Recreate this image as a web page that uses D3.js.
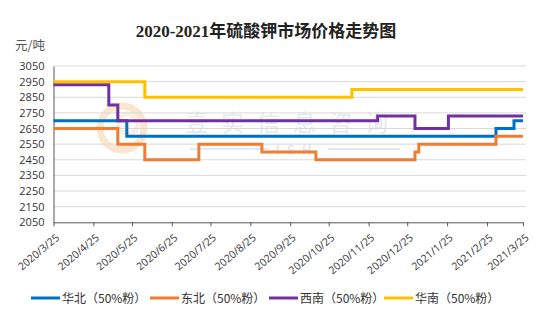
<!DOCTYPE html>
<html><head><meta charset="utf-8">
<script src="https://cdn.jsdelivr.net/npm/d3@7/dist/d3.min.js"></script>
<style>body{margin:0;background:#fff}svg{display:block}</style>
</head><body>
<svg id="c" width="545" height="323"></svg>
<script>
const title = "2020-2021年硫酸钾市场价格走势图";
const unitLabel = "元/吨";
const tickDates = ["2020-03-25","2020-04-25","2020-05-25","2020-06-25","2020-07-25","2020-08-25","2020-09-25","2020-10-25","2020-11-25","2020-12-25","2021-01-25","2021-02-25","2021-03-25"];
const yTicks = [2050,2150,2250,2350,2450,2550,2650,2750,2850,2950,3050];
const seriesNames = ["华北（50%粉）","东北（50%粉）","西南（50%粉）","华南（50%粉）"];
const seriesColors = ["#0070C0","#ED7D31","#7030A0","#FFC000"];
// change points (step-after) for each series
const huabeiDates = ["2020-03-25","2020-05-21","2021-03-04","2021-03-18","2021-03-25"];
const huabeiValues = [2700,2600,2650,2700,2700];
const dongbeiDates = ["2020-03-25","2020-05-14","2020-06-04","2020-07-16","2020-09-03","2020-10-15","2020-12-31","2021-01-03","2021-03-04","2021-03-25"];
const dongbeiValues = [2650,2550,2450,2550,2500,2450,2500,2550,2600,2600];
const xinanDates = ["2020-03-25","2020-05-07","2020-05-14","2020-12-02","2020-12-31","2021-01-26","2021-03-25"];
const xinanValues = [2930,2800,2700,2730,2650,2730,2730];
const huananDates = ["2020-03-25","2020-06-04","2020-11-12","2021-03-25"];
const huananValues = [2950,2850,2900,2900];

const parse = d3.timeParse("%Y-%m-%d");
const fmt = d => `${d.getFullYear()}/${d.getMonth()+1}/${d.getDate()}`;
const svg = d3.select("#c");
const L = 53.5, R = 523, T = 66, B = 222.3;
const x = d3.scaleTime().domain([parse(tickDates[0]), parse(tickDates[tickDates.length-1])]).range([L, R]);
const y = d3.scaleLinear().domain([2050,3050]).range([B, T]);
const sans = "'Noto Sans CJK SC','Open Sans',sans-serif";

// watermark
const wm = svg.append("g").attr("opacity",0.55);
wm.append("circle").attr("cx",122).attr("cy",128).attr("r",22).attr("fill","none").attr("stroke","#f6d3a8").attr("stroke-width",7);
wm.append("circle").attr("cx",128).attr("cy",124).attr("r",10).attr("fill","none").attr("stroke","#f9e2c4").attr("stroke-width",5);
wm.append("text").attr("x",293).attr("y",131).attr("text-anchor","middle").attr("font-family",sans).attr("font-size",23).attr("letter-spacing",13).attr("fill","#cfd8e2").text("壹实信息咨询");
wm.append("text").attr("x",297).attr("y",155).attr("text-anchor","middle").attr("font-family",sans).attr("font-size",13).attr("font-weight","bold").attr("letter-spacing",7).attr("fill","#cfd8e2").text("ISH");
wm.append("line").attr("x1",190).attr("x2",268).attr("y1",149).attr("y2",149).attr("stroke","#cfd8e2").attr("stroke-width",2);
wm.append("line").attr("x1",328).attr("x2",400).attr("y1",149).attr("y2",149).attr("stroke","#cfd8e2").attr("stroke-width",2);

// title
svg.append("text").attr("x",266).attr("y",37).attr("text-anchor","middle")
  .attr("font-family","'Liberation Serif','Noto Sans CJK SC',serif").attr("font-weight","bold").attr("font-size",17).attr("fill","#222").text(title);
svg.append("text").attr("x",15).attr("y",50).attr("font-family",sans).attr("font-size",12.5).attr("fill","#555").text(unitLabel);

// grid
svg.append("g").selectAll("line").data(yTicks.slice(1)).join("line")
  .attr("x1",L).attr("x2",R+3).attr("y1",d=>y(d)).attr("y2",d=>y(d)).attr("stroke","#d9d9d9").attr("stroke-width",1);

// y axis
const ya = svg.append("g").attr("transform",`translate(${L},0)`).call(d3.axisLeft(y).tickValues(yTicks).tickFormat(d3.format("d")).tickSize(0).tickPadding(9));
ya.select(".domain").attr("stroke","#595959");
ya.selectAll("text").attr("font-family","'Open Sans',sans-serif").attr("font-size",11).attr("fill","#333");

// x axis
const xa = svg.append("g").attr("transform",`translate(0,${B})`).call(d3.axisBottom(x).tickValues(tickDates.map(parse)).tickFormat(fmt).tickSize(4).tickSizeOuter(0));
xa.select(".domain").attr("stroke","#595959");
xa.selectAll(".tick line").attr("stroke","#595959");
xa.selectAll("text").attr("font-family","'Open Sans',sans-serif").attr("font-size",10.5).attr("fill","#333")
  .attr("text-anchor","end").attr("dy",0).attr("x",0).attr("y",0).attr("transform","translate(6,16.5) rotate(-40)");

// lines
const seriesData = [[huabeiDates,huabeiValues],[dongbeiDates,dongbeiValues],[xinanDates,xinanValues],[huananDates,huananValues]];
const line = d3.line().x(d=>x(d[0])).y(d=>y(d[1])).curve(d3.curveStepAfter);
seriesData.forEach(([ds,vs],i)=>{
  const pts = ds.map((d,k)=>[parse(d),vs[k]]);
  svg.append("path").datum(pts).attr("d",line).attr("fill","none").attr("stroke",seriesColors[i]).attr("stroke-width",3);
});

// legend
const legX = [31,150,269,384];
const lg = svg.append("g");
seriesNames.forEach((n,i)=>{
  lg.append("line").attr("x1",legX[i]).attr("x2",legX[i]+29).attr("y1",298).attr("y2",298).attr("stroke",seriesColors[i]).attr("stroke-width",3);
  lg.append("text").attr("x",legX[i]+31).attr("y",302.5).attr("font-family",sans).attr("font-size",12).attr("fill","#333").text(n);
});
</script>
</body></html>
